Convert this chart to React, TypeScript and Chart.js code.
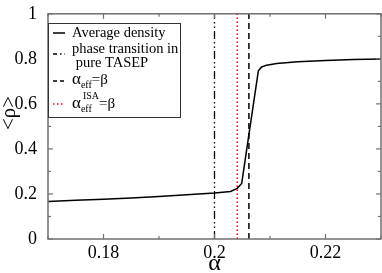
import React, { useEffect, useRef } from "react";
import { Chart, registerables } from "chart.js";

Chart.register(...registerables);

const alphaValues = [0.17, 0.175, 0.18, 0.185, 0.19, 0.195, 0.2, 0.2029, 0.2041, 0.2049, 0.2079, 0.2085, 0.2094, 0.2112, 0.215, 0.22, 0.225, 0.23];
const densityValues = [0.167, 0.172, 0.177, 0.182, 0.189, 0.196, 0.204, 0.211, 0.225, 0.247, 0.747, 0.764, 0.772, 0.779, 0.787, 0.793, 0.797, 0.799];

const transitionAlpha = 0.2;
const isaAlpha = 0.2041;
const effAlpha = 0.2062;

const xTickValues = [0.18, 0.2, 0.22];
const xTickLabels = ["0.18", "0.2", "0.22"];
const xMinorTicks = [0.17, 0.19, 0.21, 0.23];
const yTickValues = [0, 0.2, 0.4, 0.6, 0.8, 1];
const yTickLabels = ["0", "0.2", "0.4", "0.6", "0.8", "1"];
const yMinorTicks = [0.1, 0.3, 0.5, 0.7, 0.9];

const xTitle = "α";
const yTitle = "<ρ>";

const SERIF = '"Liberation Serif", "Times New Roman", serif';

const framePlugin = {
  id: "framePlugin",
  afterDraw(chart: any) {
    const { ctx, chartArea: a, scales } = chart;
    const xs = scales.x;
    const ys = scales.y;
    ctx.save();
    ctx.strokeStyle = "#707070";
    ctx.lineWidth = 1.5;
    ctx.strokeRect(a.left, a.top, a.right - a.left, a.bottom - a.top);
    ctx.lineWidth = 1.2;
    const tick = (x1: number, y1: number, x2: number, y2: number) => {
      ctx.beginPath();
      ctx.moveTo(x1, y1);
      ctx.lineTo(x2, y2);
      ctx.stroke();
    };
    xTickValues.forEach((v) => {
      const px = xs.getPixelForValue(v);
      tick(px, a.bottom, px, a.bottom - 5);
      tick(px, a.top, px, a.top + 5);
    });
    xMinorTicks.forEach((v) => {
      const px = xs.getPixelForValue(v);
      tick(px, a.bottom, px, a.bottom - 3);
      tick(px, a.top, px, a.top + 3);
    });
    yTickValues.forEach((v) => {
      const py = ys.getPixelForValue(v);
      tick(a.left, py, a.left + 5, py);
      tick(a.right, py, a.right - 5, py);
    });
    yMinorTicks.forEach((v) => {
      const py = ys.getPixelForValue(v);
      tick(a.left, py, a.left + 3, py);
      tick(a.right, py, a.right - 3, py);
    });

    // axis titles
    ctx.fillStyle = "#000";
    ctx.textAlign = "center";
    ctx.textBaseline = "middle";
    ctx.font = `24px ${SERIF}`;
    ctx.fillText(xTitle, (a.left + a.right) / 2, 264);
    ctx.save();
    ctx.translate(9, 113);
    ctx.rotate(-Math.PI / 2);
    ctx.font = `21px ${SERIF}`;
    ctx.fillText(yTitle, 0, 0);
    ctx.restore();

    // legend
    const lx = a.left;
    const ly = 23;
    const lw = 132;
    const lh = 94;
    ctx.fillStyle = "#fff";
    ctx.fillRect(lx, ly, lw, lh);
    ctx.strokeStyle = "#333";
    ctx.lineWidth = 1;
    ctx.strokeRect(lx + 0.5, ly + 0.5, lw, lh);

    const sample = (y: number, color: string, dash: number[], w: number) => {
      ctx.save();
      ctx.strokeStyle = color;
      ctx.lineWidth = w;
      ctx.setLineDash(dash);
      ctx.beginPath();
      ctx.moveTo(lx + 5, y);
      ctx.lineTo(lx + 17, y);
      ctx.stroke();
      ctx.restore();
    };
    const tx = lx + 24;
    ctx.fillStyle = "#000";
    ctx.textAlign = "left";
    ctx.textBaseline = "middle";
    ctx.font = `14.5px ${SERIF}`;

    sample(33, "#000", [], 1.5);
    ctx.fillText("Average density", tx, 33);

    sample(54, "#000", [4, 3, 1.5, 3], 1.5);
    ctx.fillText("phase transition in", tx, 49);
    ctx.fillText(" pure TASEP", tx, 63);

    sample(81, "#000", [4, 3], 1.5);
    let cx = tx;
    ctx.font = `17px ${SERIF}`;
    ctx.fillText("α", cx, 80);
    cx += ctx.measureText("α").width;
    ctx.font = `10px ${SERIF}`;
    ctx.fillText("eff", cx, 85);
    cx += ctx.measureText("eff").width;
    ctx.font = `15px ${SERIF}`;
    ctx.fillText("=β", cx, 80);

    sample(104, "#ff0000", [1.5, 2.5], 1.5);
    cx = tx;
    ctx.font = `17px ${SERIF}`;
    ctx.fillText("α", cx, 104);
    cx += ctx.measureText("α").width;
    ctx.font = `10px ${SERIF}`;
    ctx.fillText("eff", cx, 109);
    ctx.fillText("ISA", cx + 2, 96);
    cx += Math.max(ctx.measureText("eff").width, ctx.measureText("ISA").width + 2);
    ctx.font = `15px ${SERIF}`;
    ctx.fillText("=β", cx, 104);

    ctx.restore();
  },
};

export default function App() {
  const ref = useRef<HTMLCanvasElement | null>(null);
  useEffect(() => {
    if (!ref.current) return;
    const vline = (x: number) => [
      { x, y: 0 },
      { x, y: 1 },
    ];
    const chart = new Chart(ref.current, {
      type: "scatter",
      data: {
        datasets: [
          {
            label: "Average density",
            data: alphaValues.map((x, i) => ({ x, y: densityValues[i] })),
            showLine: true,
            borderColor: "#000",
            borderWidth: 1.5,
            pointRadius: 0,
          },
          {
            label: "phase transition in pure TASEP",
            data: vline(transitionAlpha),
            showLine: true,
            borderColor: "#000",
            borderWidth: 1.3,
            borderDash: [8, 3, 1.5, 3, 1.5, 3],
            pointRadius: 0,
          },
          {
            label: "alpha_eff=beta",
            data: vline(effAlpha),
            showLine: true,
            borderColor: "#000",
            borderWidth: 1.5,
            borderDash: [6, 4],
            pointRadius: 0,
          },
          {
            label: "alpha_eff^ISA=beta",
            data: vline(isaAlpha),
            showLine: true,
            borderColor: "#ff0000",
            borderWidth: 1.5,
            borderDash: [1.5, 2.5],
            pointRadius: 0,
          },
        ],
      },
      options: {
        animation: false,
        responsive: false,
        layout: { padding: { top: 7, right: 1, left: 0, bottom: 0 } },
        plugins: { legend: { display: false }, tooltip: { enabled: false } },
        scales: {
          x: {
            type: "linear",
            min: 0.17,
            max: 0.23,
            afterFit: (s: any) => {
              s.height = 34;
            },
            afterBuildTicks: (s: any) => {
              s.ticks = xTickValues.map((v) => ({ value: v }));
            },
            grid: { display: false },
            border: { display: false },
            ticks: {
              padding: -5,
              color: "#000",
              font: { family: SERIF, size: 18 },
              maxRotation: 0,
              autoSkip: false,
              callback: (v: any) => {
                const i = xTickValues.findIndex((t) => Math.abs(t - Number(v)) < 1e-6);
                return i >= 0 ? xTickLabels[i] : "";
              },
            },
          },
          y: {
            type: "linear",
            min: 0,
            max: 1,
            afterFit: (s: any) => {
              s.width = 48;
            },
            afterBuildTicks: (s: any) => {
              s.ticks = yTickValues.map((v) => ({ value: v }));
            },
            grid: { display: false },
            border: { display: false },
            ticks: {
              padding: 3,
              color: "#000",
              font: { family: SERIF, size: 18 },
              autoSkip: false,
              callback: (v: any) => {
                const i = yTickValues.findIndex((t) => Math.abs(t - Number(v)) < 1e-6);
                return i >= 0 ? yTickLabels[i] : "";
              },
            },
          },
        },
      },
      plugins: [framePlugin],
    } as any);
    return () => chart.destroy();
  }, []);
  return (
    <div style={{ position: "absolute", left: 0, top: 0, width: 382, height: 273, background: "#fff" }}>
      <canvas ref={ref} width={382} height={273} style={{ display: "block" }} />
    </div>
  );
}
